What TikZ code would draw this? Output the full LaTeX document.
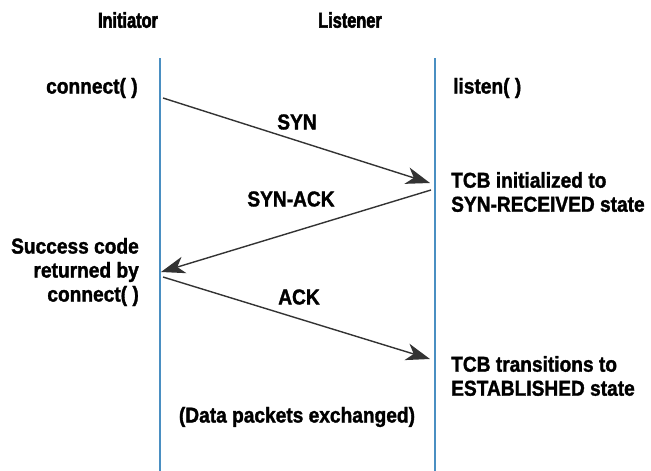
\documentclass[tikz,border=0pt]{standalone}
\usepackage{fontspec}
\setmainfont[FakeStretch=0.89, BoldFeatures={FakeBold=1.5}]{Liberation Sans}
\newfontfamily\headfont[FakeStretch=0.76, BoldFeatures={FakeBold=2.5}]{Liberation Sans}
\usetikzlibrary{arrows.meta}
\definecolor{lifeblue}{HTML}{4A8FC2}
\definecolor{msggray}{HTML}{333333}
\begin{document}
\begin{tikzpicture}[x=1pt,y=-1pt,
  lbl/.style={font=\fontsize{21.5}{24}\selectfont\bfseries, inner sep=0pt, align=left},
  head/.style={font=\headfont\fontsize{21.5}{24}\selectfont\bfseries, inner sep=0pt},
  lifeline/.style={draw=lifeblue, line width=2pt},
  msg/.style={draw=msggray, line width=1.4pt, -{Stealth[length=24pt,width=17pt,inset=7pt]}}]
\useasboundingbox (0,0) rectangle (651,471);
% headers
\node[head] (init) at (128,20) {Initiator};
\node[head] (list) at (350,20) {Listener};
% lifelines
\coordinate (lt) at (160,58);
\coordinate (lb) at (160,471);
\coordinate (rt) at (435,58);
\coordinate (rb) at (435,471);
\draw[lifeline] (lt) -- (lb);
\draw[lifeline] (rt) -- (rb);
% points on lifelines
\coordinate (s1) at (163,98);
\coordinate (e1) at (430,183);
\coordinate (s2) at (431,190);
\coordinate (e2) at (161,272);
\coordinate (s3) at (163,277);
\coordinate (e3) at (430,359);
\draw[msg] (s1) -- (e1);
\draw[msg] (s2) -- (e2);
\draw[msg] (s3) -- (e3);
% labels
\node[lbl, anchor=west] (conn) at (46,88) {connect( )};
\node[lbl, anchor=west] (lstn) at (453,88) {listen( )};
\node[lbl] (syn) at (297,122) {SYN};
\node[lbl] (synack) at (291,199) {SYN-ACK};
\node[lbl] (ack) at (299,297) {ACK};
\node[lbl, anchor=west] (tcb1) at (451,192) {TCB initialized to\\SYN-RECEIVED state};
\node[lbl, anchor=east, align=right] (succ) at (139,272) {Success code\\returned by\\connect( )};
\node[lbl, anchor=west] (tcb2) at (451,376) {TCB transitions to\\ESTABLISHED state};
\node[lbl] (data) at (297,417) {(Data packets exchanged)};
\end{tikzpicture}
\end{document}
